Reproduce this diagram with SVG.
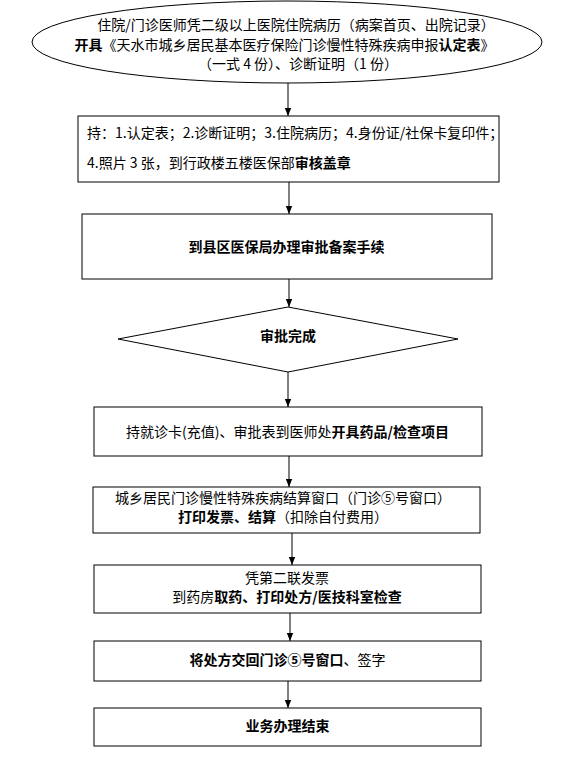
<svg xmlns="http://www.w3.org/2000/svg" width="565" height="769" viewBox="0 0 565 769">
<defs>
<style>
.shape{fill:#fff;stroke:#000;stroke-width:1}
.t{font-family:"Noto Sans CJK SC","Liberation Sans",sans-serif;font-size:14px;fill:#000}
.c{text-anchor:middle}
.b{font-weight:bold}
.conn{stroke:#000;stroke-width:1;fill:none;marker-end:url(#arr)}
</style>
<marker id="arr" viewBox="0 0 8 8" refX="8" refY="4" markerWidth="8" markerHeight="8" markerUnits="userSpaceOnUse" orient="auto">
<path d="M0,0.8 L8,4 L0,7.2 Z" fill="#000"/>
</marker>
</defs>
<rect width="565" height="769" fill="#fff"/>
<g id="connectors">
<line class="conn" x1="288" y1="83" x2="288" y2="116"/>
<line class="conn" x1="289" y1="182" x2="289" y2="214"/>
<line class="conn" x1="289" y1="279" x2="289" y2="307"/>
<line class="conn" x1="288" y1="372" x2="288" y2="407"/>
<line class="conn" x1="289" y1="456" x2="289" y2="487"/>
<line class="conn" x1="292" y1="533" x2="292" y2="565"/>
<line class="conn" x1="290" y1="613" x2="290" y2="641"/>
<line class="conn" x1="288" y1="681" x2="288" y2="708"/>
</g>
<g id="start">
<ellipse class="shape" cx="287" cy="42" rx="255" ry="41"/>
<text class="t c" x="296" y="30">住院/门诊医师凭二级以上医院住院病历（病案首页、出院记录）</text>
<text class="t c" x="284.5" y="50"><tspan class="b">开具</tspan>《天水市城乡居民基本医疗保险门诊慢性特殊疾病申报<tspan class="b">认定表</tspan>》</text>
<text class="t c" x="298" y="69">（一式 4 份）、诊断证明（1 份）</text>
</g>
<g id="step1">
<rect class="shape" x="78" y="116" width="421" height="66"/>
<text class="t" x="87" y="138">持：1.认定表；2.诊断证明；3.住院病历；4.身份证/社保卡复印件；</text>
<text class="t" x="87" y="168">4.照片 3 张，到行政楼五楼医保部<tspan class="b">审核盖章</tspan></text>
</g>
<g id="step2">
<rect class="shape" x="82" y="214" width="410" height="65"/>
<text class="t c b" x="286.5" y="252">到县区医保局办理审批备案手续</text>
</g>
<g id="decision">
<polygon class="shape" points="288,307 458,339 288,372 118,339"/>
<text class="t c b" x="288" y="341">审批完成</text>
</g>
<g id="step3">
<rect class="shape" x="94" y="407" width="388" height="49"/>
<text class="t c" x="287.5" y="437">持就诊卡(充值)、审批表到医师处<tspan class="b">开具药品/检查项目</tspan></text>
</g>
<g id="step4">
<rect class="shape" x="93" y="487" width="387" height="46"/>
<text class="t c" x="283" y="503">城乡居民门诊慢性特殊疾病结算窗口（门诊⑤号窗口）</text>
<text class="t c" x="283" y="522"><tspan class="b">打印发票、结算</tspan>（扣除自付费用）</text>
</g>
<g id="step5">
<rect class="shape" x="94" y="565" width="387" height="48"/>
<text class="t c" x="287" y="583">凭第二联发票</text>
<text class="t c" x="287" y="602">到药房<tspan class="b">取药、打印处方/医技科室检查</tspan></text>
</g>
<g id="step6">
<rect class="shape" x="94" y="641" width="387" height="40"/>
<text class="t c" x="287.5" y="665"><tspan class="b">将处方交回门诊⑤号窗口</tspan>、签字</text>
</g>
<g id="end">
<rect class="shape" x="94" y="708" width="387" height="38"/>
<text class="t c b" x="287.5" y="731">业务办理结束</text>
</g>
</svg>
